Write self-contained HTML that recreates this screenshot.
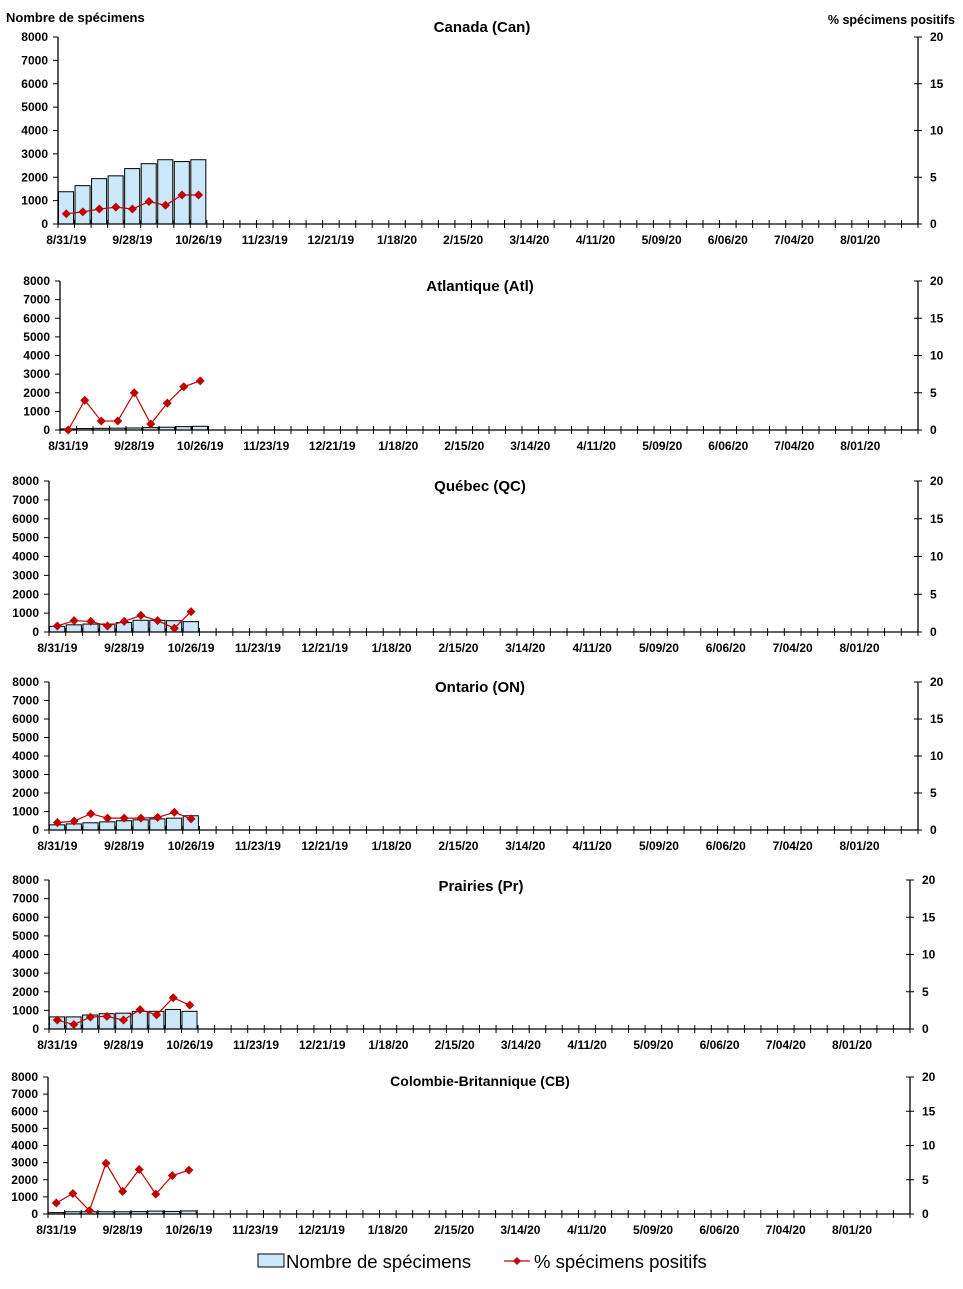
<!DOCTYPE html>
<html><head><meta charset="utf-8">
<style>
body{margin:0;background:#fff;}
svg text{font-family:"Liberation Sans",Arial,sans-serif;font-weight:bold;fill:#000;}
</style></head>
<body>
<svg id="chart" width="963" height="1284" viewBox="0 0 963 1284" xmlns="http://www.w3.org/2000/svg">
<text x="6" y="22" font-size="13">Nombre de spécimens</text>
<text x="955" y="24" font-size="12.5" text-anchor="end">% spécimens positifs</text>
<g id="panels"></g>
<g>
<rect x="258" y="1254" width="26" height="13" fill="#cce8f8" stroke="#000" stroke-width="1"/>
<text x="286" y="1268" font-size="18.5" style="font-weight:normal">Nombre de spécimens</text>
<line x1="504" y1="1261" x2="530" y2="1261" stroke="#c00000" stroke-width="1.3"/>
<path d="M517 1257 L521 1261 L517 1265 L513 1261 Z" fill="#c00000"/>
<text x="534" y="1268" font-size="18.5" style="font-weight:normal">% spécimens positifs</text>
</g>
</svg>
<script>
const weekLabels = ["8/31/19","9/28/19","10/26/19","11/23/19","12/21/19","1/18/20","2/15/20","3/14/20","4/11/20","5/09/20","6/06/20","7/04/20","8/01/20"];
const regionTitles = ["Canada (Can)","Atlantique (Atl)","Québec (QC)","Ontario (ON)","Prairies (Pr)","Colombie-Britannique (CB)"];
const countsCan = [1380,1640,1940,2060,2370,2580,2750,2670,2750];
const pctCan = [1.1,1.3,1.6,1.8,1.6,2.4,2.0,3.1,3.1];
const countsAtl = [60,80,90,100,110,130,150,180,200];
const pctAtl = [0,4.0,1.2,1.2,5.0,0.8,3.6,5.8,6.6];
const countsQC = [300,380,420,420,500,620,620,600,550];
const pctQC = [0.8,1.5,1.4,0.8,1.4,2.2,1.5,0.5,2.7];
const countsON = [280,330,390,440,500,550,600,640,770];
const pctON = [1.0,1.2,2.2,1.6,1.6,1.6,1.7,2.4,1.5];
const countsPr = [650,650,750,820,850,950,950,1050,950];
const pctPr = [1.2,0.6,1.6,1.7,1.2,2.6,1.9,4.2,3.2];
const countsCB = [80,130,130,130,130,140,170,150,180];
const pctCB = [1.6,3.0,0.5,7.4,3.3,6.5,2.9,5.6,6.4];
const leftTicks = [0,1000,2000,3000,4000,5000,6000,7000,8000];
const rightTicks = [0,5,10,15,20];
const nWeeks = 52;

const layouts = [
 {l:58,r:918,t:37,b:224,tx:482,ty:32},
 {l:60,r:918,t:281,b:430,tx:480,ty:291},
 {l:49,r:918,t:481,b:632,tx:480,ty:491},
 {l:49,r:918,t:682,b:830,tx:480,ty:692},
 {l:49,r:910,t:880,b:1029,tx:481,ty:891},
 {l:48,r:910,t:1077,b:1214,tx:480,ty:1086}
];
const seriesCounts=[countsCan,countsAtl,countsQC,countsON,countsPr,countsCB];
const seriesPct=[pctCan,pctAtl,pctQC,pctON,pctPr,pctCB];
const NS="http://www.w3.org/2000/svg";
const root=document.getElementById('panels');
function mk(tag,attrs,parent){const e=document.createElementNS(NS,tag);for(const k in attrs)e.setAttribute(k,attrs[k]);parent.appendChild(e);return e;}

layouts.forEach((L,p)=>{
 const g=mk('g',{},root);
 
 
 const bw=(L.r-L.l)/nWeeks;
 const xs=i=>L.l+i*bw;
 const yL=v=>L.b-(v/8000)*(L.b-L.t);
 const yR=v=>L.b-(v/20)*(L.b-L.t);
 const title=mk('text',{x:L.tx,y:L.ty,'font-size':p==5?14:15,'text-anchor':'middle'},g);
 title.textContent=regionTitles[p];
 
 
 seriesCounts[p].forEach((v,i)=>{
  const r=mk('rect',{x:xs(i)+0.5,y:yL(v),width:bw-1.5,height:L.b-yL(v),fill:'#cce8f8',stroke:'#000','stroke-width':1},g);
  
  
 });
 mk('line',{x1:L.l,y1:L.t,x2:L.l,y2:L.b,stroke:'#000','stroke-width':1.3},g);
 mk('line',{x1:L.r,y1:L.t,x2:L.r,y2:L.b,stroke:'#000','stroke-width':1.3},g);
 mk('line',{x1:L.l,y1:L.b,x2:L.r,y2:L.b,stroke:'#000','stroke-width':1.3},g);
 leftTicks.forEach(v=>{
  mk('line',{x1:L.l-5,y1:yL(v),x2:L.l,y2:yL(v),stroke:'#000'},g);
  const t=mk('text',{x:L.l-10,y:yL(v)+4,'font-size':12,'text-anchor':'end'},g);
  t.textContent=v;
  
  
 });
 rightTicks.forEach(v=>{
  mk('line',{x1:L.r-4,y1:yR(v),x2:L.r+4,y2:yR(v),stroke:'#000'},g);
  const t=mk('text',{x:L.r+12,y:yR(v)+4,'font-size':12},g);
  t.textContent=v;
  
  
 });
 for(let i=0;i<=nWeeks;i++) mk('line',{x1:xs(i),y1:L.b-4,x2:xs(i),y2:L.b+4,stroke:'#000'},g);
 weekLabels.forEach((lab,k)=>{
  const t=mk('text',{x:xs(k*4+0.5),y:L.b+20,'font-size':12,'text-anchor':'middle'},g);
  t.textContent=lab;
  
  
 });
 const pts=seriesPct[p].map((v,i)=>[xs(i+0.5),yR(v)]);
 const pl=mk('polyline',{points:pts.map(q=>q.join(',')).join(' '),fill:'none',stroke:'#c00000','stroke-width':1.2},g);
 
 
 pts.forEach(([x,y],i)=>{
  const m=mk('path',{d:`M${x} ${y-4.5} L${x+4.5} ${y} L${x} ${y+4.5} L${x-4.5} ${y} Z`,fill:'#c00000'},g);
  
  
 });
});
</script>
</body></html>
